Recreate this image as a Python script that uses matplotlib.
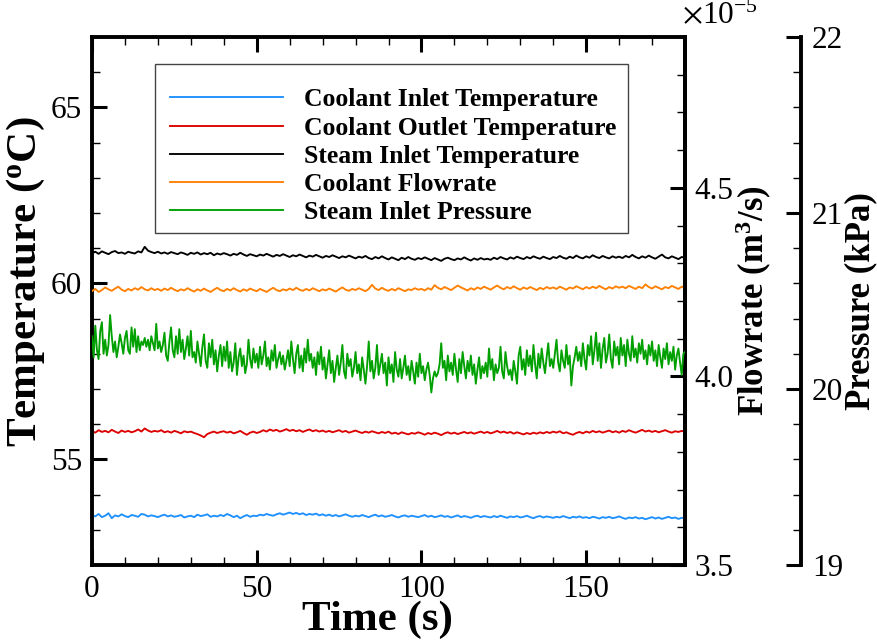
import numpy as np
import matplotlib
matplotlib.use('Agg')
import matplotlib.pyplot as plt
from matplotlib.patches import Rectangle
from matplotlib.ticker import MultipleLocator, FormatStrFormatter

plt.rcParams['font.family'] = ['Liberation Serif', 'DejaVu Serif']
plt.rcParams['mathtext.fontset'] = 'stix'

# sampled every 1 s (temperatures in degC, flowrate in 1e-5 m3/s)
coolant_in = [
    53.42, 53.38, 53.45, 53.36, 53.40, 53.47, 53.33, 53.41, 53.38, 53.44, 53.39, 53.36, 53.42, 53.40, 53.37, 53.45, 53.43, 53.38, 53.41, 53.39,
    53.36, 53.40, 53.43, 53.38, 53.41, 53.37, 53.39, 53.42, 53.35, 53.38, 53.40, 53.36, 53.43, 53.39, 53.41, 53.44, 53.37, 53.40, 53.38, 53.42,
    53.39, 53.45, 53.41, 53.36, 53.40, 53.33, 53.38, 53.42, 53.37, 53.40, 53.39, 53.43, 53.41, 53.45, 53.42, 53.40, 53.44, 53.47, 53.43, 53.46,
    53.49, 53.45, 53.48, 53.44, 53.47, 53.42, 53.45, 53.43, 53.46, 53.41, 53.44, 53.40, 53.43, 53.39, 53.42, 53.38, 53.41, 53.44, 53.40, 53.37,
    53.40, 53.38, 53.42, 53.39, 53.36, 53.40, 53.43, 53.38, 53.41, 53.37, 53.39, 53.42, 53.38, 53.35, 53.39, 53.41, 53.37, 53.40, 53.38, 53.36,
    53.39, 53.42, 53.37, 53.40, 53.36, 53.38, 53.41, 53.37, 53.39, 53.35, 53.38, 53.41, 53.36, 53.39, 53.37, 53.34, 53.38, 53.40, 53.36, 53.39,
    53.37, 53.35, 53.39, 53.36, 53.40, 53.37, 53.34, 53.38, 53.36, 53.39, 53.35, 53.37, 53.40, 53.36, 53.33, 53.37, 53.39, 53.35, 53.38, 53.36,
    53.34, 53.37, 53.35, 53.39, 53.36, 53.33, 53.37, 53.35, 53.38, 53.34, 53.36, 53.33, 53.37, 53.35, 53.32, 53.36, 53.34, 53.37, 53.33, 53.35,
    53.38, 53.34, 53.31, 53.35, 53.33, 53.36, 53.32, 53.34, 53.30, 53.33, 53.36, 53.32, 53.35, 53.31, 53.34, 53.37, 53.33, 53.35, 53.31, 53.34,
    53.33]

coolant_out = [
    55.80, 55.76, 55.83, 55.78, 55.81, 55.77, 55.84, 55.79, 55.75, 55.82, 55.78, 55.81, 55.77, 55.80, 55.85, 55.79, 55.88, 55.82, 55.78, 55.81,
    55.79, 55.83, 55.77, 55.80, 55.76, 55.81, 55.78, 55.74, 55.80, 55.77, 55.79, 55.75, 55.72, 55.68, 55.63, 55.72, 55.76, 55.79, 55.75, 55.78,
    55.80, 55.76, 55.79, 55.74, 55.77, 55.81, 55.75, 55.70, 55.76, 55.79, 55.75, 55.78, 55.83, 55.79, 55.85, 55.81, 55.84, 55.79, 55.82, 55.86,
    55.81, 55.84, 55.80, 55.83, 55.78, 55.82, 55.85, 55.80, 55.83, 55.79, 55.82, 55.78, 55.81, 55.77, 55.80, 55.83, 55.78, 55.81, 55.76, 55.79,
    55.82, 55.78, 55.75, 55.79, 55.76, 55.80, 55.77, 55.74, 55.78, 55.75, 55.79, 55.73, 55.76, 55.72, 55.77, 55.74, 55.71, 55.75, 55.73, 55.77,
    55.74, 55.70, 55.75, 55.72, 55.76, 55.73, 55.69, 55.74, 55.77, 55.73, 55.76, 55.72, 55.75, 55.78, 55.74, 55.77, 55.73, 55.76, 55.79, 55.75,
    55.78, 55.74, 55.77, 55.81, 55.76, 55.79, 55.75, 55.78, 55.73, 55.77, 55.74, 55.71, 55.75, 55.72, 55.76, 55.73, 55.77, 55.74, 55.78, 55.75,
    55.79, 55.76, 55.80, 55.74, 55.77, 55.73, 55.70, 55.75, 55.78, 55.74, 55.79, 55.76, 55.81, 55.77, 55.80, 55.76, 55.79, 55.82, 55.77, 55.80,
    55.76, 55.81, 55.78, 55.83, 55.79, 55.76, 55.80, 55.84, 55.79, 55.82, 55.78, 55.81, 55.77, 55.80, 55.83, 55.79, 55.76, 55.80, 55.78, 55.81,
    55.79]

steam_in = [
    60.86, 60.90, 60.84, 60.91, 60.87, 60.83, 60.89, 60.92, 60.86, 60.88, 60.84, 60.90, 60.87, 60.85, 60.91, 60.88, 61.04, 60.93, 60.89, 60.86,
    60.90, 60.85, 60.88, 60.84, 60.89, 60.86, 60.83, 60.88, 60.85, 60.81, 60.87, 60.84, 60.88, 60.82, 60.86, 60.83, 60.87, 60.80, 60.85, 60.82,
    60.86, 60.83, 60.79, 60.84, 60.81, 60.87, 60.82, 60.78, 60.83, 60.80, 60.77, 60.82, 60.79, 60.84, 60.80, 60.76, 60.81, 60.78, 60.83, 60.79,
    60.75, 60.80, 60.77, 60.82, 60.78, 60.74, 60.79, 60.76, 60.81, 60.77, 60.73, 60.78, 60.75, 60.80, 60.76, 60.72, 60.77, 60.74, 60.79, 60.75,
    60.71, 60.76, 60.73, 60.78, 60.72, 60.69, 60.75, 60.71, 60.77, 60.72, 60.68, 60.74, 60.70, 60.66, 60.73, 60.69, 60.75, 60.70, 60.67, 60.72,
    60.69, 60.74, 60.70, 60.66, 60.72, 60.68, 60.64, 60.70, 60.73, 60.69, 60.66, 60.71, 60.68, 60.74, 60.69, 60.65, 60.71, 60.67, 60.72, 60.68,
    60.70, 60.67, 60.73, 60.69, 60.75, 60.71, 60.68, 60.74, 60.70, 60.76, 60.72, 60.69, 60.75, 60.71, 60.77, 60.73, 60.70, 60.76, 60.72, 60.69,
    60.75, 60.72, 60.78, 60.73, 60.70, 60.76, 60.72, 60.79, 60.74, 60.71, 60.77, 60.73, 60.80, 60.75, 60.72, 60.78, 60.74, 60.71, 60.77, 60.73,
    60.76, 60.72, 60.78, 60.74, 60.81, 60.75, 60.71, 60.77, 60.73, 60.79, 60.74, 60.70, 60.76, 60.82, 60.74, 60.71, 60.77, 60.73, 60.69, 60.75,
    60.73]

flow_e5 = [
    4.226, 4.232, 4.224, 4.229, 4.236, 4.231, 4.227, 4.233, 4.238, 4.230, 4.226, 4.232, 4.228, 4.234, 4.230, 4.237, 4.231, 4.228, 4.234, 4.229,
    4.232, 4.227, 4.233, 4.229, 4.235, 4.230, 4.226, 4.231, 4.228, 4.234, 4.229, 4.225, 4.231, 4.227, 4.233, 4.228, 4.224, 4.230, 4.235, 4.229,
    4.226, 4.232, 4.228, 4.234, 4.229, 4.225, 4.231, 4.227, 4.233, 4.229, 4.226, 4.232, 4.228, 4.224, 4.230, 4.235, 4.229, 4.226, 4.231, 4.228,
    4.233, 4.229, 4.235, 4.230, 4.227, 4.232, 4.228, 4.234, 4.230, 4.226, 4.231, 4.228, 4.233, 4.229, 4.225, 4.231, 4.236, 4.230, 4.227, 4.232,
    4.229, 4.234, 4.230, 4.226, 4.232, 4.243, 4.233, 4.229, 4.235, 4.230, 4.227, 4.232, 4.228, 4.234, 4.230, 4.226, 4.231, 4.229, 4.234, 4.230,
    4.232, 4.228, 4.234, 4.230, 4.242, 4.235, 4.231, 4.237, 4.233, 4.229, 4.235, 4.241, 4.236, 4.232, 4.228, 4.234, 4.230, 4.236, 4.232, 4.238,
    4.234, 4.230, 4.236, 4.241, 4.235, 4.231, 4.237, 4.233, 4.239, 4.234, 4.230, 4.236, 4.232, 4.237, 4.233, 4.229, 4.235, 4.231, 4.237, 4.233,
    4.236, 4.232, 4.238, 4.234, 4.230, 4.236, 4.233, 4.239, 4.235, 4.231, 4.237, 4.233, 4.238, 4.234, 4.240, 4.235, 4.231, 4.237, 4.233, 4.239,
    4.235, 4.238, 4.234, 4.240, 4.236, 4.232, 4.238, 4.234, 4.244, 4.237, 4.233, 4.239, 4.235, 4.231, 4.237, 4.234, 4.240, 4.236, 4.232, 4.238,
    4.236]

# steam inlet pressure in kPa, sampled every 0.5 s
steam_p = [
    20.30, 20.18, 20.36, 20.22, 20.17, 20.33, 20.38, 20.20, 20.28, 20.19, 20.25, 20.42, 20.30, 20.21, 20.27, 20.18, 20.24, 20.31, 20.26, 20.20,
    20.29, 20.33, 20.22, 20.20, 20.35, 20.24, 20.34, 20.21, 20.30, 20.22, 20.27, 20.25, 20.29, 20.24, 20.28, 20.22, 20.30, 20.26, 20.22, 20.37,
    20.23, 20.27, 20.21, 20.25, 20.32, 20.19, 20.16, 20.27, 20.35, 20.22, 20.18, 20.30, 20.20, 20.34, 20.21, 20.28, 20.17, 20.23, 20.30, 20.19,
    20.33, 20.18, 20.21, 20.15, 20.27, 20.20, 20.13, 20.24, 20.31, 20.16, 20.12, 20.26, 20.18, 20.28, 20.14, 20.22, 20.10, 20.19, 20.25, 20.13,
    20.24, 20.16, 20.27, 20.12, 20.21, 20.10, 20.15, 20.26, 20.08, 20.18, 20.23, 20.13, 20.19, 20.09, 20.14, 20.28, 20.17, 20.12, 20.23, 20.15,
    20.20, 20.12, 20.24, 20.14, 20.19, 20.27, 20.13, 20.18, 20.11, 20.22, 20.16, 20.25, 20.12, 20.17, 20.21, 20.14, 20.19, 20.11, 20.16, 20.22,
    20.13, 20.27, 20.17, 20.09, 20.20, 20.25, 20.12, 20.19, 20.10, 20.23, 20.15, 20.28, 20.16, 20.20, 20.12, 20.18, 20.08, 20.21, 20.14, 20.24,
    20.11, 20.18, 20.06, 20.14, 20.22, 20.09, 20.16, 20.04, 20.12, 20.19, 20.08, 20.15, 20.25, 20.10, 20.06, 20.20, 20.13, 20.17, 20.07, 20.12,
    20.21, 20.09, 20.14, 20.05, 20.18, 20.11, 20.03, 20.13, 20.27, 20.10, 20.16, 20.06, 20.12, 20.25, 20.08, 20.14, 20.20, 20.09, 20.15, 20.02,
    20.18, 20.09, 20.14, 20.04, 20.21, 20.11, 20.07, 20.17, 20.06, 20.12, 20.19, 20.08, 20.13, 20.05, 20.16, 20.10, 20.03, 20.15, 20.07, 20.20,
    20.09, 20.13, 20.05, 20.11, 20.15, 20.08, 19.98, 20.06, 20.10, 20.07, 20.09, 20.14, 20.26, 20.12, 20.16, 20.05, 20.19, 20.10, 20.15, 20.08,
    20.20, 20.11, 20.04, 20.17, 20.09, 20.21, 20.13, 20.06, 20.16, 20.10, 20.19, 20.08, 20.14, 20.03, 20.11, 20.18, 20.06, 20.13, 20.09, 20.15,
    20.07, 20.23, 20.11, 20.17, 20.05, 20.14, 20.09, 20.12, 20.24, 20.10, 20.06, 20.21, 20.13, 20.08, 20.11, 20.05, 20.16, 20.10, 20.03, 20.19,
    20.24, 20.11, 20.17, 20.08, 20.22, 20.13, 20.19, 20.10, 20.25, 20.14, 20.06, 20.20, 20.12, 20.23, 20.15, 20.09, 20.18, 20.26, 20.13, 20.17,
    20.12, 20.20, 20.28, 20.15, 20.10, 20.22, 20.16, 20.12, 20.25, 20.14, 20.19, 20.02, 20.13, 20.18, 20.24, 20.16, 20.21, 20.13, 20.26, 20.17,
    20.11, 20.25, 20.19, 20.30, 20.14, 20.22, 20.32, 20.16, 20.26, 20.12, 20.23, 20.29, 20.15, 20.20, 20.31, 20.17, 20.12, 20.27, 20.19, 20.24,
    20.14, 20.29, 20.19, 20.25, 20.13, 20.28, 20.20, 20.16, 20.30, 20.18, 20.23, 20.15, 20.26, 20.20, 20.28, 20.17, 20.22, 20.14, 20.25, 20.19,
    20.27, 20.16, 20.22, 20.13, 20.25, 20.18, 20.12, 20.23, 20.17, 20.26, 20.14, 20.21, 20.16, 20.24, 20.11, 20.19, 20.23, 20.15, 20.08, 20.20,
    20.21]

labels = ['Coolant Inlet Temperature', 'Coolant Outlet Temperature',
          'Steam Inlet Temperature', 'Coolant Flowrate', 'Steam Inlet Pressure']
colors = ['#1e90ff', '#dd0000', '#000000', '#ff8000', '#00a000']

t1 = np.arange(len(coolant_in)) * 1.0
t05 = np.arange(len(steam_p)) * 0.5

W, H = 877, 641
fig = plt.figure(figsize=(W / 100, H / 100), dpi=100)
ax = fig.add_axes([92 / W, 76 / H, 593 / W, 528 / H])
ax2 = ax.twinx()
ax3 = ax.twinx()

lw = 1.35
l1, = ax.plot(t1, coolant_in, color=colors[0], lw=lw)
l2, = ax.plot(t1, coolant_out, color=colors[1], lw=lw)
l3, = ax.plot(t1, steam_in, color=colors[2], lw=lw)
l4, = ax2.plot(t1, flow_e5, color=colors[3], lw=lw)
l5, = ax3.plot(t05, steam_p, color=colors[4], lw=lw)

ax.set_xlim(0, 180)
ax.set_ylim(52, 67)
ax2.set_ylim(3.5, 4.9)
ax3.set_ylim(19, 22)

fs_tick = 22.5
spine_w = 2.8

ax.xaxis.set_major_locator(MultipleLocator(50))
ax.xaxis.set_minor_locator(MultipleLocator(10))
ax.yaxis.set_major_locator(MultipleLocator(5))
ax.yaxis.set_minor_locator(MultipleLocator(1))
ax2.yaxis.set_major_locator(MultipleLocator(0.5))
ax2.yaxis.set_minor_locator(MultipleLocator(0.1))
ax2.yaxis.set_major_formatter(FormatStrFormatter('%.1f'))
ax3.yaxis.set_major_locator(MultipleLocator(1))
ax3.yaxis.set_minor_locator(MultipleLocator(0.2))

for a in (ax, ax2, ax3):
    a.tick_params(which='major', direction='in', length=11, width=2.2, labelsize=fs_tick)
    a.tick_params(which='minor', direction='in', length=6, width=1.0)
    for s in a.spines.values():
        s.set_linewidth(spine_w)

ax.tick_params(axis='x', which='both', top=True, pad=7)
ax.tick_params(axis='y', which='both', right=False, pad=7)
ax2.tick_params(axis='y', which='both', pad=7)
ax3.tick_params(axis='y', which='both', pad=8)

for s in ('top', 'bottom', 'left'):
    ax2.spines[s].set_visible(False)
    ax3.spines[s].set_visible(False)
ax3.spines['right'].set_position(('axes', (801 - 92) / 593))

ax.set_xlabel('Time (s)', fontsize=31, fontweight='bold')
ax.xaxis.set_label_coords(0.482, -0.068)
ax.set_ylabel(r'Temperature ($\mathregular{^o}$C)', fontsize=31, fontweight='bold')
ax.yaxis.set_label_coords(-0.076, 0.536)
ax2.set_ylabel(r'Flowrate (m$\mathregular{^3}$/s)', fontsize=25, fontweight='bold', labelpad=0.5)
ax3.set_ylabel('Pressure (kPa)', fontsize=25, fontweight='bold', labelpad=0.5)

ax3.text(0.995, 1.012, r'$\times$10$\mathregular{^{-5}}$', transform=ax.transAxes,
         fontsize=fs_tick, ha='left', va='bottom')

# legend box
ax3.add_patch(Rectangle((0.1062, 0.6288), 0.7977, 0.3201, transform=ax.transAxes,
                        fill=True, facecolor='white', edgecolor='#444444', lw=1.0, zorder=5))
leg = ax3.legend([l1, l2, l3, l4, l5], labels, loc='upper left',
                 bbox_to_anchor=(0.1315, 0.9025), bbox_transform=ax.transAxes,
                 frameon=False, borderpad=0, borderaxespad=0, handlelength=4.4,
                 handletextpad=0.8, labelspacing=0.2,
                 prop={'weight': 'bold', 'size': 18.5})
leg.set_zorder(6)

fig.savefig('out.png', dpi=100)
